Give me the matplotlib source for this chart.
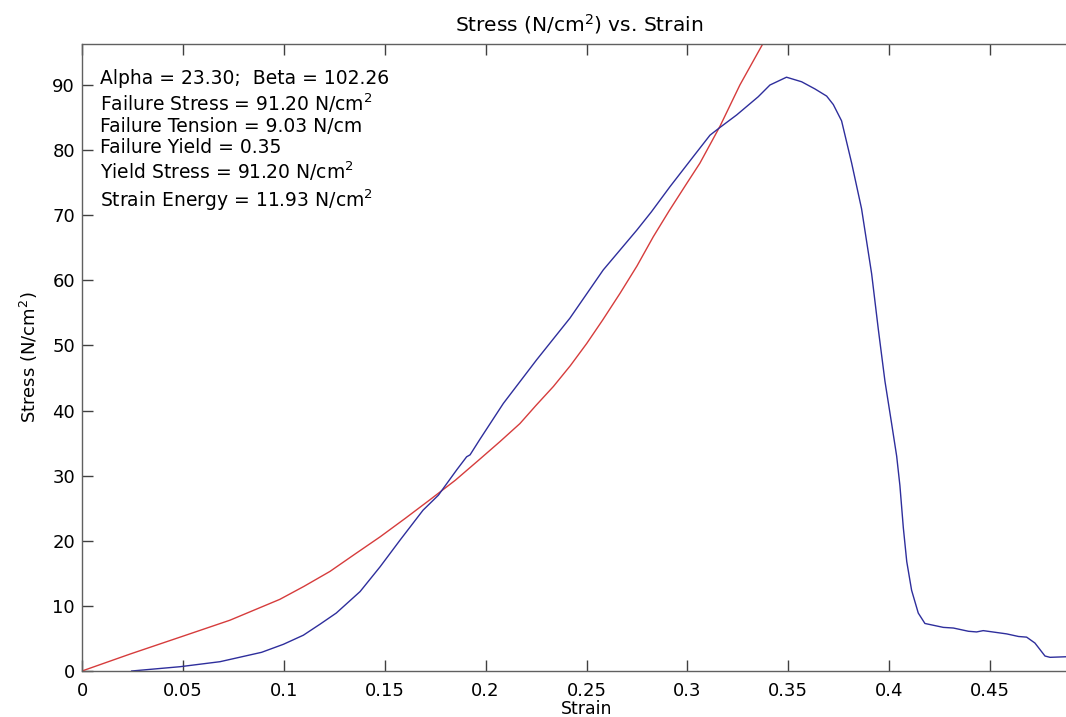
import matplotlib
matplotlib.use("Agg")
import matplotlib.pyplot as plt

# ---- data ----
strain_meas = [0.0246, 0.0486, 0.0684, 0.0890, 0.0998, 0.1097, 0.1180, 0.1260, 0.1378,
               0.1477, 0.1576, 0.1690, 0.1766, 0.1857, 0.1906, 0.1923, 0.1970, 0.2088,
               0.2253, 0.2418, 0.2583, 0.2749, 0.2821, 0.2914, 0.3029, 0.3112, 0.3162,
               0.3244, 0.3351, 0.3409, 0.3491, 0.3566, 0.3632, 0.3690, 0.3723, 0.3764,
               0.3814, 0.3863, 0.3913, 0.3946, 0.3979, 0.4012, 0.4037, 0.4053, 0.4070,
               0.4087, 0.4111, 0.4144, 0.4177, 0.4268, 0.4318, 0.4393, 0.4433, 0.4466,
               0.4582, 0.4641, 0.4681, 0.4722, 0.4772, 0.4797, 0.4887, 0.4950]
stress_meas = [0.0, 0.66, 1.43, 2.87, 4.1, 5.5, 7.2, 8.9, 12.2,
               16.0, 20.1, 24.7, 27.0, 30.9, 32.9, 33.2, 35.5, 41.1,
               47.8, 54.2, 61.6, 67.7, 70.5, 74.4, 79.0, 82.3, 83.5,
               85.4, 88.2, 90.0, 91.2, 90.5, 89.4, 88.3, 87.0, 84.5,
               78.0, 71.0, 61.0, 52.5, 44.5, 38.0, 33.0, 28.5, 22.0,
               16.8, 12.4, 8.9, 7.3, 6.7, 6.6, 6.1, 6.0, 6.2,
               5.7, 5.3, 5.2, 4.3, 2.3, 2.1, 2.2, 2.2]

strain_fit = [0.0, 0.0238, 0.0486, 0.0733, 0.0980, 0.1100, 0.1229, 0.1350, 0.1477,
              0.1600, 0.1724, 0.1850, 0.1970, 0.2070, 0.2170, 0.2250, 0.2336, 0.2420,
              0.2501, 0.2580, 0.2666, 0.2750, 0.2831, 0.2910, 0.2997, 0.3062, 0.3162,
              0.3260, 0.3375, 0.3450]
stress_fit = [0.0, 2.6, 5.2, 7.8, 11.0, 13.0, 15.3, 17.9, 20.6,
              23.4, 26.3, 29.3, 32.5, 35.2, 38.0, 40.8, 43.7, 46.9,
              50.3, 53.9, 58.0, 62.2, 66.7, 70.7, 74.9, 78.0, 83.7,
              90.0, 96.4, 100.5]

xticks = [0, 0.05, 0.1, 0.15, 0.2, 0.25, 0.3, 0.35, 0.4, 0.45]
xticklabels = ["0", "0.05", "0.1", "0.15", "0.2", "0.25", "0.3", "0.35", "0.4", "0.45"]
yticks = [0, 10, 20, 30, 40, 50, 60, 70, 80, 90]

info_lines = [
    "Alpha = 23.30;  Beta = 102.26",
    "Failure Stress = 91.20 N/cm$^2$",
    "Failure Tension = 9.03 N/cm",
    "Failure Yield = 0.35",
    "Yield Stress = 91.20 N/cm$^2$",
    "Strain Energy = 11.93 N/cm$^2$",
]
info_baselines_px = [84.3, 111.0, 132.3, 153.3, 179.3, 206.7]

# ---- figure ----
W, H = 1066, 717
fig = plt.figure(figsize=(W / 100, H / 100), dpi=100)
ax_l, ax_r, ax_t, ax_b = 82, 1091, 44, 671
ax = fig.add_axes([ax_l / W, (H - ax_b) / H, (ax_r - ax_l) / W, (ax_b - ax_t) / H])

ax.plot(strain_fit, stress_fit, color="#d63c3c", lw=1.0, clip_on=True)
ax.plot(strain_meas, stress_meas, color="#2e2e9c", lw=1.0, clip_on=True)

ax.set_xlim(0, 0.5)
ax.set_ylim(0, 96.3)
ax.set_xticks(xticks)
ax.set_xticklabels(xticklabels)
ax.set_yticks(yticks)

for s in ax.spines.values():
    s.set_color("#606060")
    s.set_linewidth(1.0)
ax.tick_params(direction="in", length=8, width=1, color="#404040",
               top=True, right=True, labelsize=13, pad=5, labelcolor="black")
ax.tick_params(axis="x", pad=8)

ax.set_xlabel("Strain", fontsize=12.5)
ax.xaxis.set_label_coords(0.5, (ax_b - 700) / (ax_b - ax_t))
ax.xaxis.label.set_va("top")
ax.set_ylabel("Stress (N/cm$^2$)", fontsize=13)
ax.yaxis.set_label_coords((40 - ax_l) / (ax_r - ax_l), 0.5)

fig.text(579 / W, 1 - 31.7 / H, "Stress (N/cm$^2$) vs. Strain", fontsize=14.5,
         ha="center", va="baseline")

for line, py in zip(info_lines, info_baselines_px):
    ax.text((100 - ax_l) / (ax_r - ax_l), (ax_b - py) / (ax_b - ax_t), line,
            transform=ax.transAxes, fontsize=13.5, ha="left", va="baseline")

fig.savefig("out.png", dpi=100)
